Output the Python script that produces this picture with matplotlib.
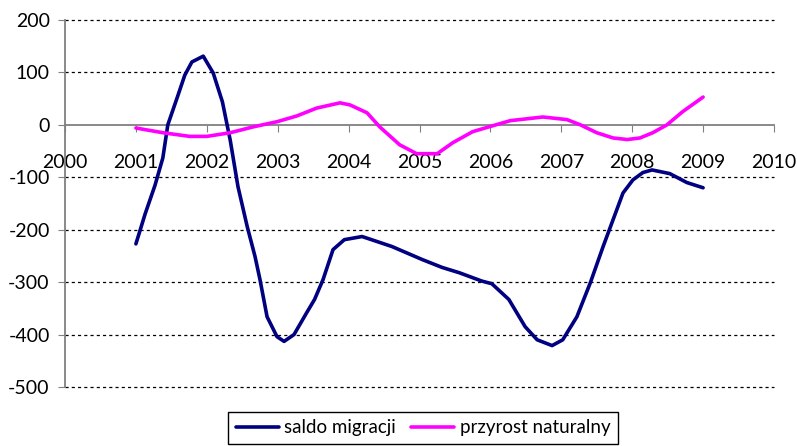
import matplotlib
matplotlib.use("Agg")
import matplotlib.pyplot as plt

plt.rcParams['font.family'] = ['Lato', 'DejaVu Sans']
plt.rcParams['axes.unicode_minus'] = False

# saldo migracji
mig_x = [2001.00, 2001.13, 2001.27, 2001.38, 2001.45, 2001.59, 2001.69, 2001.79, 2001.95,
         2002.09, 2002.22, 2002.33, 2002.44, 2002.57, 2002.68, 2002.75, 2002.85, 2002.99,
         2003.09, 2003.23, 2003.41, 2003.52, 2003.64, 2003.78, 2003.94, 2004.19, 2004.61,
         2005.04, 2005.32, 2005.56, 2005.74, 2005.88, 2006.02, 2006.26, 2006.49, 2006.66,
         2006.87, 2007.02, 2007.22, 2007.41, 2007.59, 2007.73, 2007.87, 2008.01, 2008.15,
         2008.28, 2008.53, 2008.77, 2009.00]
mig_y = [-227, -170, -115, -63, 0, 55, 95, 120, 131,
         99, 44, -29, -118, -194, -251, -295, -366, -404,
         -413, -400, -358, -333, -295, -238, -219, -213, -232,
         -257, -272, -282, -291, -298, -303, -333, -385, -410,
         -421, -410, -366, -301, -232, -181, -130, -105, -91,
         -86, -93, -110, -120]

# przyrost naturalny
nat_x = [2001.00, 2001.38, 2001.76, 2002.00, 2002.33, 2002.65, 2002.99, 2003.27, 2003.55,
         2003.88, 2004.02, 2004.26, 2004.44, 2004.72, 2004.96, 2005.25, 2005.47, 2005.75,
         2006.00, 2006.28, 2006.74, 2007.08, 2007.27, 2007.50, 2007.73, 2007.93, 2008.11,
         2008.29, 2008.49, 2008.71, 2009.00]
nat_y = [-6, -15, -22, -22, -15, -4, 6, 17, 32,
         42, 38, 23, -4, -38, -55, -55, -34, -13,
         -3, 8, 15, 10, 0, -15, -25, -28, -25,
         -15, 0, 25, 53]

years = list(range(2000, 2011))
yticks = [200, 100, 0, -100, -200, -300, -400, -500]

fig = plt.figure(figsize=(7.97, 4.46), dpi=100)
ax = fig.add_axes([65/797, 1 - 387/446, (774 - 65)/797, (387 - 20)/446])

for v in yticks:
    if v != 0:
        ax.axhline(v, color='black', lw=0.9, ls=(0, (2.5, 2.5)), zorder=1, clip_on=False)

l1, = ax.plot(mig_x, mig_y, color='#000080', lw=2.6, solid_capstyle='round',
              solid_joinstyle='round', zorder=3)
l2, = ax.plot(nat_x, nat_y, color='#FF00FF', lw=2.6, solid_capstyle='round',
              solid_joinstyle='round', zorder=3)

ax.set_xlim(2000, 2010)
ax.set_ylim(-500, 200)
ax.set_yticks(yticks)
ax.set_yticklabels([str(v) for v in yticks])
ax.set_xticks(years)
ax.set_xticklabels([str(y) for y in years])

ax.spines['top'].set_visible(False)
ax.spines['right'].set_visible(False)
ax.spines['bottom'].set_position(('data', 0))
ax.spines['bottom'].set_color('#808080')
ax.spines['left'].set_color('#808080')
ax.spines['bottom'].set_linewidth(1.3)
ax.spines['left'].set_linewidth(1.3)
ax.tick_params(axis='x', direction='out', length=5, color='#808080', pad=16, labelsize=14)
ax.tick_params(axis='y', direction='out', length=5, color='#808080', pad=6, labelsize=14)

fig.legend([l1, l2], ['saldo migracji', 'przyrost naturalny'],
           loc='upper left', bbox_to_anchor=(228/797, 1 - 412/446), ncol=2,
           fancybox=False, edgecolor='black', framealpha=1, fontsize=13.5,
           handlelength=2.3, handletextpad=0.3, columnspacing=0.8,
           borderpad=0.4, borderaxespad=0)

fig.savefig('out.png', dpi=100)
